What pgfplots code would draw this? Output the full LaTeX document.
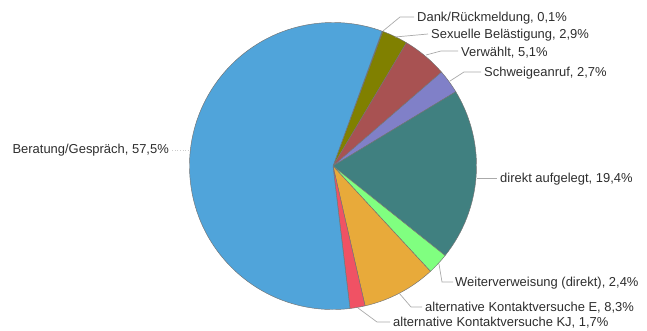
\documentclass[border=0pt]{standalone}
\usepackage{pgfplots}
\usepackage{pgfplotstable}
\pgfplotsset{compat=1.18}
\usepackage{fontspec}
\setmainfont{Liberation Sans}

\definecolor{col0}{RGB}{60,60,120}   % Dank/Rueckmeldung
\definecolor{col1}{RGB}{128,128,0}   % Sexuelle Belaestigung
\definecolor{col2}{RGB}{168,82,82}   % Verwaehlt
\definecolor{col3}{RGB}{128,128,200} % Schweigeanruf
\definecolor{col4}{RGB}{64,128,128}  % direkt aufgelegt
\definecolor{col5}{RGB}{128,255,128} % Weiterverweisung
\definecolor{col6}{RGB}{232,170,58}  % alt. Kontaktversuche E
\definecolor{col7}{RGB}{240,82,100}  % alt. Kontaktversuche KJ
\definecolor{col8}{RGB}{80,164,218}  % Beratung/Gespraech
\definecolor{leader}{RGB}{170,170,170}
\definecolor{txt}{RGB}{45,45,45}

% values in clockwise order, starting at the Dank/Rueckmeldung slice
\pgfplotstableread[col sep=comma]{
value,name
0.1,Dank
2.9,Sexuell
5.1,Verwaehlt
2.7,Schweige
19.4,direkt
2.4,Weiter
8.3,KontaktE
1.7,KontaktKJ
57.5,Beratung
}\piedata

\newcommand\computeangles{%
  \def\total{0}%
  \pgfplotstableforeachcolumnelement{value}\of\piedata\as\v{%
    \pgfmathsetmacro\tmp{\total+\v}\xdef\total{\tmp}}%
  \def\cum{70}%
  \pgfplotstableforeachcolumnelement{value}\of\piedata\as\v{%
    \pgfmathsetmacro\endang{\cum-(\v/\total)*360}%
    \expandafter\xdef\csname aS\pgfplotstablerow\endcsname{\cum}%
    \expandafter\xdef\csname aE\pgfplotstablerow\endcsname{\endang}%
    \xdef\cum{\endang}}%
}
\def\cx{333}\def\cy{165}\def\R{143.5}

\begin{document}%
\computeangles%
\begin{tikzpicture}
\begin{axis}[
  width=647bp, height=331bp, scale only axis,
  xmin=0, xmax=647, ymin=0, ymax=331,
  hide axis, clip=false,
]
\path (axis cs:0,0) rectangle (axis cs:647,331);
\pgfplotsinvokeforeach{0,...,8}{
  \filldraw[fill=col#1, draw=black!55, line width=0.45pt, line join=round]
    (axis cs:\cx,\cy) --
    (axis cs:{\cx+\R*cos(\csname aS#1\endcsname)},{\cy+\R*sin(\csname aS#1\endcsname)})
    arc[start angle=\csname aS#1\endcsname, end angle=\csname aE#1\endcsname, radius=\R bp]
    -- cycle;
}
% leader lines
\begin{scope}[draw=leader, line width=0.7pt]
\draw (axis cs:383,300) -- (axis cs:400,314) -- (axis cs:414,314);
\draw (axis cs:395,294) -- (axis cs:428,297);
\draw (axis cs:426,276) -- (axis cs:441,280) -- (axis cs:458,280);
\draw (axis cs:450,250) -- (axis cs:464,259) -- (axis cs:481,259);
\draw (axis cs:477,153) -- (axis cs:497,153);
\draw (axis cs:439,67) -- (axis cs:442,49) -- (axis cs:453,49);
\draw (axis cs:399,38) -- (axis cs:411,24) -- (axis cs:422,24);
\draw (axis cs:358,23) -- (axis cs:377,9) -- (axis cs:390,9);
\draw[dotted, draw=leader!60] (axis cs:172,181) -- (axis cs:190,181);
\end{scope}
% labels
\begin{scope}[every node/.style={font=\fontsize{13}{15}\selectfont, text=txt, inner sep=0pt}]
\node[anchor=west] at (axis cs:417,313) {Dank/Rückmeldung, 0,1\%};
\node[anchor=west] at (axis cs:431,296) {Sexuelle Belästigung, 2,9\%};
\node[anchor=west] at (axis cs:461,278.5) {Verwählt, 5,1\%};
\node[anchor=west] at (axis cs:484,258) {Schweigeanruf, 2,7\%};
\node[anchor=west] at (axis cs:500,151.5) {direkt aufgelegt, 19,4\%};
\node[anchor=west] at (axis cs:455,48) {Weiterverweisung (direkt), 2,4\%};
\node[anchor=west] at (axis cs:425,23) {alternative Kontaktversuche E, 8,3\%};
\node[anchor=west] at (axis cs:393,8.5) {alternative Kontaktversuche KJ, 1,7\%};
\node[anchor=east] at (axis cs:169,181) {Beratung/Gespräch, 57,5\%};
\end{scope}
\end{axis}
\end{tikzpicture}%
\end{document}
